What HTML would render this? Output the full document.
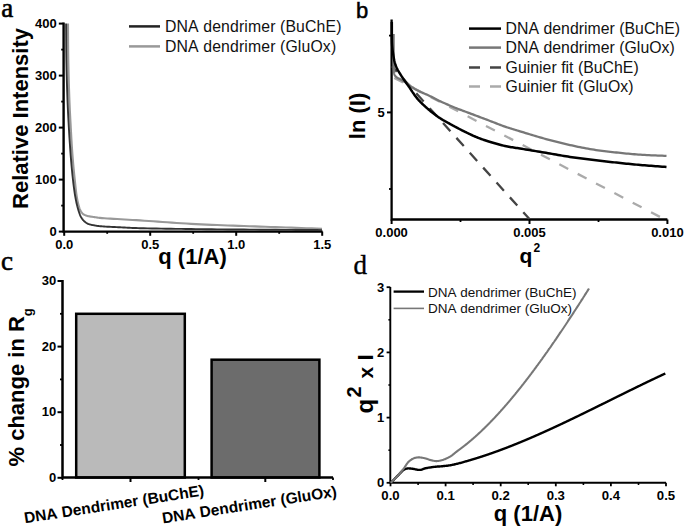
<!DOCTYPE html>
<html><head><meta charset="utf-8"><title>Figure</title>
<style>
html,body{margin:0;padding:0;background:#fff;}
body{width:685px;height:527px;overflow:hidden;font-family:"Liberation Sans", sans-serif;}
svg{display:block;} text{font-variant-ligatures:none;font-kerning:none;}
</style></head>
<body>
<svg width="685" height="527" viewBox="0 0 685 527">
<rect width="685" height="527" fill="#fff"/>
<text x="1.2" y="16.7" font-family='"Liberation Serif", serif' font-size="27" stroke="#000" stroke-width="0.6">a</text>
<path d="M63.6,22.6 V231.6 H322.6" fill="none" stroke="#000" stroke-width="2.4"/>
<line x1="58.8" y1="231.6" x2="63.6" y2="231.6" stroke="#000" stroke-width="2"/>
<text x="56.8" y="236.3" text-anchor="end" font-family='"Liberation Sans", sans-serif' font-weight="bold" font-size="13">0</text>
<line x1="58.8" y1="179.6" x2="63.6" y2="179.6" stroke="#000" stroke-width="2"/>
<text x="56.8" y="184.3" text-anchor="end" font-family='"Liberation Sans", sans-serif' font-weight="bold" font-size="13">100</text>
<line x1="58.8" y1="127.6" x2="63.6" y2="127.6" stroke="#000" stroke-width="2"/>
<text x="56.8" y="132.3" text-anchor="end" font-family='"Liberation Sans", sans-serif' font-weight="bold" font-size="13">200</text>
<line x1="58.8" y1="75.6" x2="63.6" y2="75.6" stroke="#000" stroke-width="2"/>
<text x="56.8" y="80.3" text-anchor="end" font-family='"Liberation Sans", sans-serif' font-weight="bold" font-size="13">300</text>
<line x1="58.8" y1="23.6" x2="63.6" y2="23.6" stroke="#000" stroke-width="2"/>
<text x="56.8" y="28.3" text-anchor="end" font-family='"Liberation Sans", sans-serif' font-weight="bold" font-size="13">400</text>
<line x1="61.2" y1="205.6" x2="63.6" y2="205.6" stroke="#000" stroke-width="1.8"/>
<line x1="61.2" y1="153.6" x2="63.6" y2="153.6" stroke="#000" stroke-width="1.8"/>
<line x1="61.2" y1="101.6" x2="63.6" y2="101.6" stroke="#000" stroke-width="1.8"/>
<line x1="61.2" y1="49.6" x2="63.6" y2="49.6" stroke="#000" stroke-width="1.8"/>
<line x1="64.2" y1="231.6" x2="64.2" y2="235.8" stroke="#000" stroke-width="2"/>
<text x="64.2" y="248.5" text-anchor="middle" font-family='"Liberation Sans", sans-serif' font-weight="bold" font-size="13">0.0</text>
<line x1="150.2" y1="231.6" x2="150.2" y2="235.8" stroke="#000" stroke-width="2"/>
<text x="150.2" y="248.5" text-anchor="middle" font-family='"Liberation Sans", sans-serif' font-weight="bold" font-size="13">0.5</text>
<line x1="236.2" y1="231.6" x2="236.2" y2="235.8" stroke="#000" stroke-width="2"/>
<text x="236.2" y="248.5" text-anchor="middle" font-family='"Liberation Sans", sans-serif' font-weight="bold" font-size="13">1.0</text>
<line x1="322.2" y1="231.6" x2="322.2" y2="235.8" stroke="#000" stroke-width="2"/>
<text x="322.2" y="248.5" text-anchor="middle" font-family='"Liberation Sans", sans-serif' font-weight="bold" font-size="13">1.5</text>
<line x1="107.2" y1="231.6" x2="107.2" y2="233.8" stroke="#000" stroke-width="1.8"/>
<line x1="193.2" y1="231.6" x2="193.2" y2="233.8" stroke="#000" stroke-width="1.8"/>
<line x1="279.2" y1="231.6" x2="279.2" y2="233.8" stroke="#000" stroke-width="1.8"/>
<text x="192.5" y="264" text-anchor="middle" font-family='"Liberation Sans", sans-serif' font-weight="bold" font-size="22">q (1/A)</text>
<text transform="translate(28,118.5) rotate(-90)" text-anchor="middle" font-family='"Liberation Sans", sans-serif' font-weight="bold" font-size="22">Relative Intensity</text>
<line x1="129" y1="26.4" x2="160" y2="26.4" stroke="#222" stroke-width="2.5"/>
<line x1="129" y1="46.4" x2="160" y2="46.4" stroke="#999" stroke-width="2.5"/>
<text x="165" y="32.3" font-family='"Liberation Sans", sans-serif' font-size="15.8" letter-spacing="0.13" fill="#111">DNA dendrimer (BuChE)</text>
<text x="165" y="52.3" font-family='"Liberation Sans", sans-serif' font-size="15.8" letter-spacing="0.13" fill="#111">DNA dendrimer (GluOx)</text>
<path d="M68.00,23.60 L68.02,26.63 L68.04,29.65 L68.06,32.66 L68.07,35.67 L68.09,38.68 L68.10,41.69 L68.12,44.71 L68.15,47.74 L68.17,50.78 L68.21,53.83 L68.25,56.91 L68.30,60.00 L68.36,63.29 L68.43,66.62 L68.50,70.00 L68.58,73.41 L68.67,76.83 L68.76,80.24 L68.85,83.65 L68.95,87.02 L69.06,90.36 L69.17,93.64 L69.28,96.86 L69.40,100.00 L69.51,102.67 L69.62,105.32 L69.74,107.95 L69.86,110.54 L69.99,113.11 L70.12,115.65 L70.25,118.15 L70.38,120.61 L70.52,123.03 L70.65,125.40 L70.77,127.73 L70.90,130.00 L71.00,131.82 L71.10,133.60 L71.20,135.35 L71.29,137.07 L71.39,138.77 L71.49,140.43 L71.59,142.08 L71.69,143.70 L71.79,145.30 L71.89,146.88 L71.99,148.45 L72.10,150.00 L72.19,151.33 L72.29,152.63 L72.38,153.90 L72.48,155.16 L72.57,156.40 L72.67,157.64 L72.77,158.86 L72.87,160.08 L72.98,161.30 L73.08,162.53 L73.19,163.76 L73.30,165.00 L73.41,166.25 L73.53,167.50 L73.65,168.75 L73.77,170.00 L73.89,171.25 L74.02,172.50 L74.15,173.75 L74.27,175.00 L74.40,176.25 L74.54,177.50 L74.67,178.75 L74.80,180.00 L74.93,181.26 L75.06,182.54 L75.19,183.82 L75.32,185.12 L75.45,186.41 L75.59,187.70 L75.72,188.97 L75.87,190.23 L76.01,191.47 L76.17,192.68 L76.33,193.86 L76.50,195.00 L76.65,195.92 L76.79,196.82 L76.94,197.72 L77.10,198.60 L77.26,199.47 L77.42,200.33 L77.59,201.16 L77.76,201.98 L77.94,202.77 L78.12,203.54 L78.31,204.28 L78.50,205.00 L78.65,205.53 L78.80,206.04 L78.95,206.54 L79.10,207.03 L79.25,207.50 L79.41,207.96 L79.57,208.41 L79.74,208.85 L79.92,209.28 L80.10,209.70 L80.30,210.10 L80.50,210.50 L80.68,210.83 L80.86,211.15 L81.04,211.47 L81.23,211.78 L81.42,212.08 L81.62,212.37 L81.82,212.65 L82.04,212.92 L82.26,213.18 L82.49,213.44 L82.74,213.67 L83.00,213.90 L83.28,214.12 L83.56,214.32 L83.86,214.50 L84.17,214.68 L84.48,214.84 L84.81,215.00 L85.14,215.14 L85.49,215.28 L85.85,215.41 L86.22,215.54 L86.61,215.67 L87.00,215.80 L87.57,215.97 L88.18,216.12 L88.83,216.26 L89.52,216.39 L90.22,216.51 L90.93,216.62 L91.65,216.73 L92.36,216.83 L93.06,216.92 L93.74,217.02 L94.39,217.11 L95.00,217.20 L95.44,217.27 L95.84,217.34 L96.22,217.40 L96.57,217.46 L96.92,217.51 L97.27,217.57 L97.63,217.62 L98.02,217.67 L98.44,217.73 L98.90,217.78 L99.42,217.84 L100.00,217.90 L101.97,218.08 L104.38,218.26 L107.15,218.46 L110.25,218.65 L113.62,218.86 L117.19,219.07 L120.92,219.28 L124.75,219.50 L128.63,219.72 L132.50,219.94 L136.31,220.17 L140.00,220.40 L144.33,220.68 L148.75,220.99 L153.25,221.30 L157.83,221.62 L162.48,221.95 L167.18,222.28 L171.92,222.61 L176.71,222.93 L181.51,223.25 L186.34,223.55 L191.17,223.84 L196.00,224.10 L201.19,224.36 L206.43,224.61 L211.72,224.84 L217.05,225.06 L222.41,225.27 L227.79,225.47 L233.19,225.66 L238.58,225.85 L243.97,226.04 L249.34,226.22 L254.69,226.41 L260.00,226.60 L265.20,226.79 L270.39,226.97 L275.57,227.15 L280.74,227.33 L285.90,227.50 L291.06,227.67 L296.22,227.84 L301.37,228.01 L306.52,228.18 L311.68,228.35 L316.84,228.53 L322.00,228.70" fill="none" stroke="#999" stroke-width="2.1"/>
<path d="M66.10,23.60 L66.12,26.63 L66.14,29.65 L66.16,32.66 L66.17,35.67 L66.19,38.68 L66.20,41.69 L66.22,44.71 L66.25,47.74 L66.27,50.78 L66.31,53.83 L66.35,56.91 L66.40,60.00 L66.46,63.29 L66.53,66.62 L66.60,70.00 L66.68,73.41 L66.77,76.83 L66.86,80.24 L66.95,83.65 L67.05,87.02 L67.16,90.36 L67.27,93.64 L67.38,96.86 L67.50,100.00 L67.61,102.67 L67.72,105.32 L67.84,107.95 L67.96,110.55 L68.08,113.11 L68.21,115.65 L68.34,118.15 L68.47,120.61 L68.61,123.03 L68.74,125.40 L68.87,127.73 L69.00,130.00 L69.11,131.82 L69.21,133.60 L69.32,135.35 L69.42,137.07 L69.53,138.77 L69.64,140.43 L69.75,142.08 L69.86,143.70 L69.97,145.30 L70.08,146.88 L70.19,148.45 L70.30,150.00 L70.40,151.33 L70.49,152.63 L70.59,153.90 L70.68,155.16 L70.78,156.40 L70.88,157.64 L70.98,158.86 L71.08,160.08 L71.18,161.30 L71.28,162.53 L71.39,163.76 L71.50,165.00 L71.61,166.25 L71.73,167.50 L71.84,168.75 L71.96,170.00 L72.08,171.25 L72.20,172.50 L72.32,173.75 L72.45,175.00 L72.58,176.25 L72.72,177.50 L72.86,178.75 L73.00,180.00 L73.15,181.26 L73.30,182.54 L73.45,183.82 L73.61,185.12 L73.77,186.41 L73.94,187.70 L74.11,188.97 L74.28,190.23 L74.45,191.47 L74.63,192.68 L74.81,193.86 L75.00,195.00 L75.15,195.91 L75.31,196.81 L75.47,197.69 L75.63,198.56 L75.79,199.41 L75.95,200.25 L76.12,201.07 L76.29,201.88 L76.46,202.68 L76.64,203.47 L76.82,204.24 L77.00,205.00 L77.16,205.63 L77.31,206.26 L77.47,206.87 L77.63,207.48 L77.80,208.08 L77.96,208.66 L78.13,209.24 L78.30,209.81 L78.47,210.37 L78.64,210.92 L78.82,211.47 L79.00,212.00 L79.15,212.45 L79.31,212.90 L79.46,213.34 L79.61,213.77 L79.76,214.19 L79.91,214.61 L80.07,215.03 L80.24,215.43 L80.41,215.83 L80.60,216.23 L80.79,216.62 L81.00,217.00 L81.21,217.37 L81.43,217.73 L81.65,218.08 L81.88,218.44 L82.12,218.78 L82.37,219.12 L82.62,219.46 L82.88,219.78 L83.15,220.10 L83.43,220.41 L83.71,220.71 L84.00,221.00 L84.29,221.28 L84.59,221.55 L84.89,221.81 L85.20,222.07 L85.51,222.31 L85.84,222.55 L86.17,222.78 L86.51,223.00 L86.86,223.22 L87.23,223.42 L87.61,223.61 L88.00,223.80 L88.50,224.01 L89.04,224.20 L89.61,224.38 L90.20,224.54 L90.81,224.69 L91.42,224.83 L92.04,224.95 L92.66,225.07 L93.27,225.18 L93.87,225.29 L94.45,225.40 L95.00,225.50 L95.43,225.58 L95.84,225.66 L96.23,225.72 L96.60,225.79 L96.97,225.84 L97.34,225.90 L97.72,225.95 L98.11,226.00 L98.53,226.05 L98.98,226.10 L99.47,226.15 L100.00,226.20 L101.20,226.31 L102.56,226.41 L104.06,226.51 L105.68,226.60 L107.39,226.70 L109.16,226.79 L110.99,226.88 L112.84,226.96 L114.69,227.05 L116.51,227.13 L118.29,227.22 L120.00,227.30 L121.63,227.38 L123.22,227.46 L124.76,227.55 L126.29,227.62 L127.82,227.70 L129.37,227.78 L130.95,227.85 L132.59,227.93 L134.29,228.00 L136.08,228.07 L137.98,228.14 L140.00,228.20 L143.67,228.30 L147.66,228.40 L151.93,228.49 L156.44,228.57 L161.14,228.65 L166.00,228.72 L170.97,228.79 L176.01,228.85 L181.08,228.92 L186.12,228.98 L191.11,229.04 L196.00,229.10 L201.19,229.16 L206.43,229.22 L211.72,229.28 L217.05,229.33 L222.42,229.39 L227.80,229.44 L233.19,229.48 L238.58,229.53 L243.97,229.57 L249.34,229.62 L254.69,229.66 L260.00,229.70 L265.20,229.74 L270.39,229.78 L275.57,229.81 L280.74,229.85 L285.90,229.88 L291.06,229.91 L296.22,229.94 L301.37,229.97 L306.52,230.00 L311.68,230.04 L316.84,230.07 L322.00,230.10" fill="none" stroke="#333" stroke-width="1.9"/>
<text x="356" y="18.2" font-family='"Liberation Sans", sans-serif' font-size="22" stroke="#000" stroke-width="0.5">b</text>
<path d="M391.6,19.6 V219.5 H667.4" fill="none" stroke="#000" stroke-width="2.3"/>
<line x1="387" y1="112.4" x2="391.6" y2="112.4" stroke="#000" stroke-width="2"/>
<text x="384.8" y="116.8" text-anchor="end" font-family='"Liberation Sans", sans-serif' font-weight="bold" font-size="13">5</text>
<line x1="389" y1="35.6" x2="391.6" y2="35.6" stroke="#000" stroke-width="1.8"/>
<line x1="389" y1="189.0" x2="391.6" y2="189.0" stroke="#000" stroke-width="1.8"/>
<line x1="391.6" y1="219.5" x2="391.6" y2="224" stroke="#000" stroke-width="2"/>
<text x="391.6" y="236.8" text-anchor="middle" font-family='"Liberation Sans", sans-serif' font-weight="bold" font-size="13">0.000</text>
<line x1="529.5" y1="219.5" x2="529.5" y2="224" stroke="#000" stroke-width="2"/>
<text x="529.5" y="236.8" text-anchor="middle" font-family='"Liberation Sans", sans-serif' font-weight="bold" font-size="13">0.005</text>
<line x1="667.4" y1="219.5" x2="667.4" y2="224" stroke="#000" stroke-width="2"/>
<text x="667.4" y="236.8" text-anchor="middle" font-family='"Liberation Sans", sans-serif' font-weight="bold" font-size="13">0.010</text>
<line x1="460.5" y1="219.5" x2="460.5" y2="222" stroke="#000" stroke-width="1.8"/>
<line x1="598.5" y1="219.5" x2="598.5" y2="222" stroke="#000" stroke-width="1.8"/>
<text x="519.6" y="263" font-family='"Liberation Sans", sans-serif' font-weight="bold" font-size="21">q</text>
<text x="533.5" y="252.2" font-family='"Liberation Sans", sans-serif' font-weight="bold" font-size="12">2</text>
<text transform="translate(364.6,116) rotate(-90)" text-anchor="middle" font-family='"Liberation Sans", sans-serif' font-weight="bold" font-size="22">ln (I)</text>
<line x1="469" y1="28.6" x2="501" y2="28.6" stroke="#000" stroke-width="2.5"/>
<line x1="469" y1="47.6" x2="501" y2="47.6" stroke="#777" stroke-width="2.5"/>
<line x1="469" y1="67.4" x2="501" y2="67.4" stroke="#444" stroke-width="2.5" stroke-dasharray="11,10"/>
<line x1="469" y1="86.6" x2="501" y2="86.6" stroke="#aaa" stroke-width="2.5" stroke-dasharray="11,10"/>
<text x="505.6" y="34.0" font-family='"Liberation Sans", sans-serif' font-size="15.8" letter-spacing="0.03" fill="#111">DNA dendrimer (BuChE)</text>
<text x="505.6" y="53.0" font-family='"Liberation Sans", sans-serif' font-size="15.8" letter-spacing="0.03" fill="#111">DNA dendrimer (GluOx)</text>
<text x="505.6" y="72.8" font-family='"Liberation Sans", sans-serif' font-size="15.8" letter-spacing="0.03" fill="#111">Guinier fit (BuChE)</text>
<text x="505.6" y="92.0" font-family='"Liberation Sans", sans-serif' font-size="15.8" letter-spacing="0.03" fill="#111">Guinier fit (GluOx)</text>
<line x1="392.5" y1="77" x2="663" y2="218.5" stroke="#aaa" stroke-width="2.3" stroke-dasharray="10,10.7" stroke-dashoffset="18.7"/>
<line x1="392" y1="66.3" x2="529.2" y2="218.8" stroke="#444" stroke-width="2.3" stroke-dasharray="11,9" stroke-dashoffset="3.7"/>
<path d="M393.60,34.00 L393.60,35.34 L393.60,36.69 L393.60,38.05 L393.60,39.42 L393.59,40.78 L393.59,42.14 L393.59,43.50 L393.59,44.84 L393.59,46.16 L393.59,47.47 L393.60,48.75 L393.60,50.00 L393.60,51.07 L393.61,52.13 L393.61,53.18 L393.62,54.22 L393.63,55.25 L393.63,56.26 L393.64,57.26 L393.65,58.24 L393.66,59.21 L393.67,60.16 L393.69,61.09 L393.70,62.00 L393.71,62.73 L393.72,63.45 L393.72,64.16 L393.73,64.86 L393.73,65.54 L393.74,66.22 L393.75,66.88 L393.76,67.53 L393.78,68.17 L393.81,68.80 L393.85,69.41 L393.90,70.00 L393.94,70.47 L393.98,70.93 L394.02,71.39 L394.06,71.84 L394.10,72.29 L394.15,72.72 L394.21,73.15 L394.28,73.55 L394.36,73.94 L394.45,74.32 L394.57,74.67 L394.70,75.00 L394.81,75.23 L394.93,75.45 L395.05,75.65 L395.18,75.85 L395.31,76.03 L395.46,76.21 L395.61,76.38 L395.77,76.54 L395.94,76.71 L396.12,76.87 L396.30,77.03 L396.50,77.20 L396.77,77.41 L397.07,77.61 L397.39,77.80 L397.72,77.99 L398.07,78.17 L398.43,78.35 L398.80,78.53 L399.18,78.71 L399.56,78.90 L399.94,79.09 L400.32,79.29 L400.70,79.50 L401.15,79.76 L401.61,80.03 L402.07,80.30 L402.55,80.58 L403.03,80.87 L403.51,81.16 L404.00,81.46 L404.48,81.76 L404.97,82.06 L405.45,82.37 L405.93,82.69 L406.40,83.00 L406.88,83.33 L407.36,83.67 L407.83,84.02 L408.31,84.38 L408.78,84.74 L409.25,85.11 L409.72,85.47 L410.19,85.83 L410.67,86.18 L411.14,86.53 L411.62,86.87 L412.10,87.20 L412.56,87.51 L413.01,87.80 L413.46,88.09 L413.91,88.37 L414.35,88.65 L414.80,88.92 L415.26,89.20 L415.73,89.47 L416.22,89.75 L416.72,90.03 L417.25,90.31 L417.80,90.60 L418.61,91.01 L419.46,91.41 L420.36,91.83 L421.30,92.24 L422.27,92.66 L423.25,93.08 L424.25,93.51 L425.26,93.94 L426.27,94.37 L427.26,94.81 L428.24,95.25 L429.20,95.70 L430.14,96.16 L431.08,96.62 L432.00,97.09 L432.92,97.56 L433.84,98.04 L434.76,98.52 L435.69,99.00 L436.62,99.48 L437.57,99.97 L438.53,100.45 L439.50,100.93 L440.50,101.40 L441.65,101.93 L442.83,102.48 L444.05,103.02 L445.28,103.57 L446.53,104.12 L447.79,104.67 L449.04,105.21 L450.28,105.74 L451.51,106.26 L452.71,106.76 L453.88,107.24 L455.00,107.70 L455.88,108.06 L456.73,108.39 L457.54,108.71 L458.33,109.01 L459.12,109.31 L459.89,109.60 L460.68,109.89 L461.48,110.19 L462.30,110.49 L463.15,110.81 L464.05,111.14 L465.00,111.50 L466.43,112.04 L467.94,112.60 L469.52,113.20 L471.16,113.81 L472.85,114.44 L474.57,115.09 L476.32,115.74 L478.08,116.40 L479.84,117.06 L481.59,117.72 L483.31,118.36 L485.00,119.00 L486.68,119.64 L488.37,120.29 L490.06,120.95 L491.77,121.61 L493.47,122.28 L495.17,122.94 L496.86,123.59 L498.53,124.23 L500.19,124.86 L501.82,125.46 L503.43,126.05 L505.00,126.60 L506.31,127.05 L507.57,127.47 L508.81,127.87 L510.02,128.26 L511.21,128.63 L512.40,129.00 L513.60,129.36 L514.81,129.73 L516.05,130.10 L517.32,130.48 L518.63,130.88 L520.00,131.30 L521.80,131.85 L523.67,132.43 L525.60,133.03 L527.58,133.63 L529.59,134.25 L531.64,134.88 L533.70,135.50 L535.78,136.13 L537.86,136.74 L539.93,137.35 L541.98,137.93 L544.00,138.50 L545.99,139.05 L547.99,139.59 L549.99,140.13 L551.98,140.66 L553.98,141.18 L555.98,141.70 L557.98,142.20 L559.98,142.70 L561.99,143.19 L563.99,143.67 L565.99,144.14 L568.00,144.60 L569.99,145.05 L571.99,145.49 L573.98,145.93 L575.98,146.36 L577.97,146.78 L579.97,147.19 L581.97,147.58 L583.97,147.97 L585.97,148.35 L587.98,148.71 L589.99,149.06 L592.00,149.40 L594.02,149.72 L596.05,150.03 L598.08,150.32 L600.11,150.59 L602.15,150.86 L604.19,151.11 L606.23,151.36 L608.27,151.60 L610.30,151.83 L612.34,152.05 L614.37,152.28 L616.40,152.50 L618.40,152.72 L620.40,152.93 L622.39,153.13 L624.37,153.34 L626.36,153.53 L628.34,153.72 L630.33,153.90 L632.33,154.07 L634.33,154.24 L636.34,154.40 L638.36,154.56 L640.40,154.70 L642.54,154.84 L644.68,154.96 L646.85,155.08 L649.02,155.18 L651.19,155.28 L653.38,155.37 L655.57,155.46 L657.76,155.54 L659.95,155.63 L662.14,155.71 L664.32,155.80 L666.50,155.90" fill="none" stroke="#777" stroke-width="2.3"/>
<path d="M391.80,22.00 L391.82,23.95 L391.83,25.94 L391.83,27.97 L391.83,30.02 L391.83,32.06 L391.84,34.09 L391.85,36.09 L391.87,38.04 L391.90,39.92 L391.94,41.72 L392.01,43.42 L392.10,45.00 L392.17,45.98 L392.25,46.92 L392.33,47.83 L392.42,48.69 L392.52,49.53 L392.62,50.35 L392.72,51.14 L392.83,51.93 L392.94,52.70 L393.06,53.46 L393.18,54.23 L393.30,55.00 L393.41,55.67 L393.51,56.34 L393.62,57.00 L393.73,57.65 L393.84,58.29 L393.96,58.93 L394.08,59.56 L394.21,60.18 L394.34,60.80 L394.48,61.40 L394.64,62.00 L394.80,62.60 L394.96,63.14 L395.12,63.67 L395.29,64.20 L395.47,64.72 L395.65,65.23 L395.84,65.74 L396.03,66.25 L396.23,66.75 L396.44,67.24 L396.65,67.73 L396.87,68.22 L397.10,68.70 L397.33,69.16 L397.57,69.62 L397.81,70.08 L398.07,70.53 L398.33,70.97 L398.59,71.42 L398.86,71.85 L399.13,72.29 L399.40,72.72 L399.67,73.15 L399.94,73.58 L400.20,74.00 L400.45,74.40 L400.69,74.79 L400.94,75.18 L401.19,75.56 L401.43,75.95 L401.68,76.33 L401.93,76.70 L402.18,77.08 L402.43,77.46 L402.69,77.84 L402.94,78.22 L403.20,78.60 L403.47,78.99 L403.74,79.39 L404.01,79.78 L404.29,80.18 L404.57,80.57 L404.84,80.97 L405.12,81.36 L405.40,81.75 L405.68,82.14 L405.96,82.53 L406.23,82.92 L406.50,83.30 L406.75,83.66 L407.01,84.01 L407.26,84.35 L407.50,84.70 L407.75,85.04 L408.00,85.38 L408.25,85.72 L408.49,86.07 L408.74,86.42 L408.99,86.77 L409.25,87.13 L409.50,87.50 L409.78,87.92 L410.06,88.34 L410.35,88.77 L410.63,89.20 L410.91,89.64 L411.19,90.08 L411.48,90.53 L411.77,90.98 L412.07,91.43 L412.37,91.89 L412.68,92.34 L413.00,92.80 L413.36,93.32 L413.73,93.84 L414.10,94.37 L414.48,94.90 L414.87,95.44 L415.26,95.98 L415.66,96.52 L416.07,97.06 L416.48,97.60 L416.91,98.14 L417.35,98.67 L417.80,99.20 L418.31,99.78 L418.83,100.35 L419.37,100.92 L419.92,101.49 L420.48,102.06 L421.05,102.63 L421.63,103.20 L422.21,103.76 L422.80,104.33 L423.40,104.89 L424.00,105.44 L424.60,106.00 L425.23,106.58 L425.88,107.16 L426.53,107.74 L427.19,108.32 L427.86,108.90 L428.53,109.48 L429.21,110.05 L429.88,110.61 L430.56,111.17 L431.24,111.72 L431.92,112.27 L432.60,112.80 L433.25,113.31 L433.90,113.81 L434.55,114.31 L435.21,114.80 L435.86,115.28 L436.52,115.76 L437.18,116.24 L437.84,116.70 L438.50,117.16 L439.16,117.62 L439.83,118.06 L440.50,118.50 L441.16,118.92 L441.82,119.32 L442.48,119.72 L443.15,120.12 L443.82,120.50 L444.49,120.88 L445.17,121.26 L445.84,121.63 L446.51,122.00 L447.18,122.36 L447.84,122.73 L448.50,123.10 L449.13,123.45 L449.75,123.80 L450.37,124.14 L450.99,124.49 L451.60,124.82 L452.22,125.16 L452.83,125.50 L453.45,125.84 L454.08,126.17 L454.71,126.51 L455.35,126.85 L456.00,127.20 L456.72,127.58 L457.44,127.96 L458.18,128.34 L458.91,128.73 L459.66,129.11 L460.41,129.50 L461.17,129.88 L461.93,130.27 L462.69,130.65 L463.46,131.04 L464.23,131.42 L465.00,131.80 L465.81,132.20 L466.63,132.60 L467.45,133.00 L468.28,133.41 L469.12,133.81 L469.95,134.21 L470.79,134.61 L471.63,135.00 L472.47,135.39 L473.32,135.77 L474.16,136.14 L475.00,136.50 L475.82,136.84 L476.62,137.18 L477.40,137.50 L478.19,137.82 L478.97,138.13 L479.76,138.44 L480.57,138.74 L481.39,139.05 L482.24,139.35 L483.12,139.66 L484.04,139.98 L485.00,140.30 L486.43,140.77 L487.96,141.26 L489.57,141.76 L491.24,142.28 L492.97,142.79 L494.72,143.31 L496.50,143.81 L498.27,144.30 L500.02,144.77 L501.74,145.22 L503.40,145.63 L505.00,146.00 L506.31,146.28 L507.57,146.54 L508.80,146.77 L510.01,146.97 L511.21,147.17 L512.40,147.35 L513.60,147.53 L514.81,147.70 L516.05,147.89 L517.32,148.07 L518.63,148.28 L520.00,148.50 L521.80,148.80 L523.68,149.11 L525.61,149.43 L527.58,149.76 L529.60,150.10 L531.65,150.44 L533.72,150.78 L535.79,151.12 L537.87,151.47 L539.94,151.82 L541.98,152.16 L544.00,152.50 L546.00,152.84 L548.00,153.19 L550.00,153.54 L552.00,153.89 L554.00,154.25 L556.00,154.60 L558.00,154.95 L560.00,155.30 L562.00,155.64 L564.00,155.97 L566.00,156.29 L568.00,156.60 L570.00,156.90 L571.99,157.19 L573.99,157.47 L575.99,157.75 L577.98,158.02 L579.98,158.28 L581.98,158.54 L583.98,158.80 L585.98,159.05 L587.99,159.30 L589.99,159.55 L592.00,159.80 L594.03,160.05 L596.06,160.30 L598.09,160.54 L600.12,160.78 L602.16,161.02 L604.20,161.25 L606.23,161.48 L608.27,161.71 L610.31,161.94 L612.34,162.16 L614.37,162.38 L616.40,162.60 L618.40,162.81 L620.40,163.03 L622.39,163.24 L624.38,163.45 L626.36,163.65 L628.35,163.85 L630.34,164.05 L632.33,164.25 L634.33,164.44 L636.34,164.63 L638.36,164.82 L640.40,165.00 L642.54,165.18 L644.69,165.36 L646.85,165.54 L649.02,165.70 L651.20,165.87 L653.38,166.03 L655.57,166.19 L657.76,166.35 L659.95,166.51 L662.14,166.67 L664.32,166.83 L666.50,167.00" fill="none" stroke="#000" stroke-width="2.5"/>
<text x="1" y="269.8" font-family='"Liberation Serif", serif' font-size="27" stroke="#000" stroke-width="0.6">c</text>
<rect x="76.2" y="313.8" width="108.6" height="163.7" fill="#bababa" stroke="#000" stroke-width="2.5"/>
<rect x="211.6" y="359.7" width="107.8" height="117.8" fill="#6c6c6c" stroke="#000" stroke-width="2.5"/>
<path d="M62.5,280 V477.5 H333" fill="none" stroke="#000" stroke-width="2.5"/>
<line x1="57.5" y1="477.8" x2="62.5" y2="477.8" stroke="#000" stroke-width="2"/>
<text x="56.2" y="481.8" text-anchor="end" font-family='"Liberation Sans", sans-serif' font-weight="bold" font-size="13">0</text>
<line x1="57.5" y1="412.2" x2="62.5" y2="412.2" stroke="#000" stroke-width="2"/>
<text x="56.2" y="416.2" text-anchor="end" font-family='"Liberation Sans", sans-serif' font-weight="bold" font-size="13">10</text>
<line x1="57.5" y1="346.6" x2="62.5" y2="346.6" stroke="#000" stroke-width="2"/>
<text x="56.2" y="350.6" text-anchor="end" font-family='"Liberation Sans", sans-serif' font-weight="bold" font-size="13">20</text>
<line x1="57.5" y1="281.0" x2="62.5" y2="281.0" stroke="#000" stroke-width="2"/>
<text x="56.2" y="285.0" text-anchor="end" font-family='"Liberation Sans", sans-serif' font-weight="bold" font-size="13">30</text>
<line x1="60" y1="445.0" x2="62.5" y2="445.0" stroke="#000" stroke-width="1.8"/>
<line x1="60" y1="379.4" x2="62.5" y2="379.4" stroke="#000" stroke-width="1.8"/>
<line x1="60" y1="313.8" x2="62.5" y2="313.8" stroke="#000" stroke-width="1.8"/>
<line x1="130.5" y1="477.5" x2="130.5" y2="482" stroke="#000" stroke-width="2"/>
<line x1="265.3" y1="477.5" x2="265.3" y2="482" stroke="#000" stroke-width="2"/>
<line x1="62.5" y1="477.5" x2="62.5" y2="480" stroke="#000" stroke-width="1.8"/>
<line x1="198.5" y1="477.5" x2="198.5" y2="480" stroke="#000" stroke-width="1.8"/>
<line x1="333.0" y1="477.5" x2="333.0" y2="480" stroke="#000" stroke-width="1.8"/>
<text transform="translate(23.8,466.5) rotate(-90)" font-family='"Liberation Sans", sans-serif' font-weight="bold" font-size="22">% change in R<tspan font-size="13" dy="8.2">g</tspan></text>
<text transform="translate(25,523.3) rotate(-8.8)" font-family='"Liberation Sans", sans-serif' font-weight="bold" font-size="15.5">DNA Dendrimer (BuChE)</text>
<text transform="translate(163,523.4) rotate(-8.8)" font-family='"Liberation Sans", sans-serif' font-weight="bold" font-size="15.5">DNA Dendrimer (GluOx)</text>
<text x="353.5" y="274" font-family='"Liberation Serif", serif' font-size="27" stroke="#000" stroke-width="0.4">d</text>
<path d="M390.3,287 V482.8 H666" fill="none" stroke="#000" stroke-width="1.9"/>
<line x1="386.6" y1="482.8" x2="390.3" y2="482.8" stroke="#000" stroke-width="1.8"/>
<text x="384.2" y="487.3" text-anchor="end" font-family='"Liberation Sans", sans-serif' font-weight="bold" font-size="13">0</text>
<line x1="386.6" y1="417.6" x2="390.3" y2="417.6" stroke="#000" stroke-width="1.8"/>
<text x="384.2" y="422.1" text-anchor="end" font-family='"Liberation Sans", sans-serif' font-weight="bold" font-size="13">1</text>
<line x1="386.6" y1="352.4" x2="390.3" y2="352.4" stroke="#000" stroke-width="1.8"/>
<text x="384.2" y="356.9" text-anchor="end" font-family='"Liberation Sans", sans-serif' font-weight="bold" font-size="13">2</text>
<line x1="386.6" y1="287.2" x2="390.3" y2="287.2" stroke="#000" stroke-width="1.8"/>
<text x="384.2" y="291.7" text-anchor="end" font-family='"Liberation Sans", sans-serif' font-weight="bold" font-size="13">3</text>
<line x1="388.4" y1="450.2" x2="390.3" y2="450.2" stroke="#000" stroke-width="1.6"/>
<line x1="388.4" y1="385.0" x2="390.3" y2="385.0" stroke="#000" stroke-width="1.6"/>
<line x1="388.4" y1="319.8" x2="390.3" y2="319.8" stroke="#000" stroke-width="1.6"/>
<line x1="390.5" y1="482.8" x2="390.5" y2="486.3" stroke="#000" stroke-width="1.8"/>
<text x="390.5" y="500.2" text-anchor="middle" font-family='"Liberation Sans", sans-serif' font-weight="bold" font-size="13.2">0.0</text>
<line x1="445.6" y1="482.8" x2="445.6" y2="486.3" stroke="#000" stroke-width="1.8"/>
<text x="445.6" y="500.2" text-anchor="middle" font-family='"Liberation Sans", sans-serif' font-weight="bold" font-size="13.2">0.1</text>
<line x1="500.7" y1="482.8" x2="500.7" y2="486.3" stroke="#000" stroke-width="1.8"/>
<text x="500.7" y="500.2" text-anchor="middle" font-family='"Liberation Sans", sans-serif' font-weight="bold" font-size="13.2">0.2</text>
<line x1="555.8" y1="482.8" x2="555.8" y2="486.3" stroke="#000" stroke-width="1.8"/>
<text x="555.8" y="500.2" text-anchor="middle" font-family='"Liberation Sans", sans-serif' font-weight="bold" font-size="13.2">0.3</text>
<line x1="610.9" y1="482.8" x2="610.9" y2="486.3" stroke="#000" stroke-width="1.8"/>
<text x="610.9" y="500.2" text-anchor="middle" font-family='"Liberation Sans", sans-serif' font-weight="bold" font-size="13.2">0.4</text>
<line x1="666.0" y1="482.8" x2="666.0" y2="486.3" stroke="#000" stroke-width="1.8"/>
<text x="666.0" y="500.2" text-anchor="middle" font-family='"Liberation Sans", sans-serif' font-weight="bold" font-size="13.2">0.5</text>
<line x1="418.1" y1="482.8" x2="418.1" y2="485" stroke="#000" stroke-width="1.6"/>
<line x1="473.1" y1="482.8" x2="473.1" y2="485" stroke="#000" stroke-width="1.6"/>
<line x1="528.2" y1="482.8" x2="528.2" y2="485" stroke="#000" stroke-width="1.6"/>
<line x1="583.4" y1="482.8" x2="583.4" y2="485" stroke="#000" stroke-width="1.6"/>
<line x1="638.5" y1="482.8" x2="638.5" y2="485" stroke="#000" stroke-width="1.6"/>
<text x="528" y="521" text-anchor="middle" font-family='"Liberation Sans", sans-serif' font-weight="bold" font-size="22">q (1/A)</text>
<text transform="translate(373.0,413.4) rotate(-90)" font-family='"Liberation Sans", sans-serif' font-weight="bold" font-size="24">q</text>
<text transform="translate(361.2,397.6) rotate(-90)" font-family='"Liberation Sans", sans-serif' font-weight="bold" font-size="20">2</text>
<text transform="translate(373.0,378.4) rotate(-90)" font-family='"Liberation Sans", sans-serif' font-weight="bold" font-size="21">x</text>
<text transform="translate(373.0,360.4) rotate(-90)" font-family='"Liberation Sans", sans-serif' font-weight="bold" font-size="22">I</text>
<line x1="393.6" y1="291.6" x2="424" y2="291.6" stroke="#000" stroke-width="2.3"/>
<line x1="393.6" y1="308.4" x2="424" y2="308.4" stroke="#777" stroke-width="1.6"/>
<text x="428" y="296.6" font-family='"Liberation Sans", sans-serif' font-size="13.5" fill="#111">DNA dendrimer (BuChE)</text>
<text x="428" y="313.4" font-family='"Liberation Sans", sans-serif' font-size="13.5" fill="#111">DNA dendrimer (GluOx)</text>
<path d="M390.60,482.80 L390.68,482.73 L390.76,482.66 L390.83,482.59 L390.90,482.53 L390.98,482.47 L391.05,482.40 L391.13,482.34 L391.21,482.26 L391.29,482.18 L391.39,482.10 L391.49,482.00 L391.60,481.90 L391.93,481.59 L392.31,481.21 L392.75,480.78 L393.23,480.30 L393.75,479.78 L394.29,479.23 L394.85,478.67 L395.42,478.10 L395.98,477.53 L396.54,476.96 L397.08,476.42 L397.60,475.90 L398.10,475.39 L398.61,474.85 L399.12,474.29 L399.63,473.73 L400.14,473.16 L400.65,472.61 L401.16,472.07 L401.66,471.55 L402.16,471.07 L402.65,470.63 L403.13,470.24 L403.60,469.90 L403.91,469.70 L404.21,469.53 L404.51,469.36 L404.80,469.22 L405.09,469.09 L405.38,468.97 L405.67,468.87 L405.96,468.78 L406.26,468.69 L406.57,468.62 L406.88,468.56 L407.20,468.50 L407.57,468.45 L407.94,468.42 L408.31,468.41 L408.69,468.41 L409.08,468.42 L409.47,468.45 L409.87,468.48 L410.27,468.52 L410.69,468.56 L411.12,468.61 L411.55,468.66 L412.00,468.70 L412.62,468.77 L413.28,468.88 L413.98,469.01 L414.69,469.15 L415.42,469.31 L416.16,469.46 L416.90,469.60 L417.63,469.73 L418.35,469.83 L419.03,469.89 L419.69,469.92 L420.30,469.90 L420.74,469.85 L421.15,469.77 L421.54,469.67 L421.92,469.54 L422.28,469.41 L422.64,469.26 L423.00,469.11 L423.37,468.95 L423.75,468.80 L424.14,468.66 L424.56,468.52 L425.00,468.40 L425.63,468.25 L426.30,468.11 L427.00,467.96 L427.72,467.83 L428.47,467.69 L429.22,467.56 L429.99,467.44 L430.76,467.32 L431.53,467.21 L432.30,467.10 L433.06,467.00 L433.80,466.90 L434.53,466.82 L435.25,466.74 L435.98,466.68 L436.71,466.62 L437.44,466.57 L438.17,466.52 L438.90,466.48 L439.62,466.43 L440.35,466.38 L441.07,466.33 L441.79,466.27 L442.50,466.20 L443.18,466.13 L443.86,466.06 L444.54,465.99 L445.21,465.92 L445.88,465.85 L446.55,465.77 L447.22,465.70 L447.89,465.61 L448.56,465.52 L449.24,465.42 L449.92,465.32 L450.60,465.20 L451.32,465.07 L452.05,464.93 L452.78,464.78 L453.52,464.62 L454.25,464.46 L454.99,464.29 L455.73,464.12 L456.46,463.94 L457.20,463.76 L457.94,463.57 L458.67,463.39 L459.40,463.20 L460.15,463.00 L460.93,462.80 L461.73,462.57 L462.53,462.35 L463.34,462.12 L464.14,461.89 L464.91,461.66 L465.66,461.44 L466.36,461.24 L467.01,461.04 L467.59,460.87 L468.10,460.73 L468.32,460.66 L468.51,460.61 L468.70,460.55 L468.87,460.50 L469.03,460.46 L469.19,460.41 L469.34,460.37 L469.49,460.33 L469.63,460.28 L469.78,460.24 L469.94,460.19 L470.10,460.15 L470.27,460.10 L470.43,460.05 L470.60,460.00 L470.77,459.95 L470.93,459.90 L471.10,459.85 L471.27,459.80 L471.43,459.75 L471.60,459.70 L471.77,459.66 L471.93,459.61 L472.10,459.56 L472.27,459.51 L472.43,459.46 L472.60,459.41 L472.77,459.36 L472.93,459.31 L473.10,459.26 L473.27,459.21 L473.43,459.16 L473.60,459.10 L473.77,459.05 L473.93,459.00 L474.10,458.95 L474.27,458.90 L474.43,458.85 L474.60,458.80 L474.77,458.75 L474.93,458.70 L475.10,458.65 L475.27,458.60 L475.43,458.55 L475.60,458.49 L475.77,458.44 L475.93,458.39 L476.10,458.34 L476.27,458.29 L476.43,458.24 L476.60,458.18 L476.77,458.13 L476.93,458.08 L477.10,458.03 L477.27,457.98 L477.43,457.92 L477.60,457.87 L477.77,457.82 L477.93,457.77 L478.10,457.71 L478.27,457.66 L478.43,457.61 L478.60,457.56 L478.77,457.50 L478.93,457.45 L479.10,457.40 L479.27,457.35 L479.43,457.29 L479.60,457.24 L479.77,457.19 L479.93,457.13 L480.10,457.08 L480.27,457.03 L480.43,456.97 L480.60,456.92 L480.77,456.86 L480.93,456.81 L481.10,456.76 L481.27,456.70 L481.43,456.65 L481.60,456.60 L481.77,456.54 L481.93,456.49 L482.10,456.43 L482.27,456.38 L482.43,456.32 L482.60,456.27 L482.77,456.21 L482.93,456.16 L483.10,456.11 L483.27,456.05 L483.43,456.00 L483.60,455.94 L483.77,455.89 L483.93,455.83 L484.10,455.78 L484.27,455.72 L484.43,455.66 L484.60,455.61 L484.77,455.55 L484.93,455.50 L485.10,455.44 L485.27,455.39 L485.43,455.33 L485.60,455.28 L485.77,455.22 L485.93,455.16 L486.10,455.11 L486.27,455.05 L486.43,455.00 L486.60,454.94 L486.77,454.88 L486.93,454.83 L487.10,454.77 L487.27,454.71 L487.43,454.66 L487.60,454.60 L487.77,454.54 L487.93,454.49 L488.10,454.43 L488.27,454.37 L488.43,454.32 L488.60,454.26 L488.77,454.20 L488.93,454.14 L489.10,454.09 L489.27,454.03 L489.43,453.97 L489.60,453.91 L489.77,453.86 L489.93,453.80 L490.10,453.74 L490.27,453.68 L490.43,453.63 L490.60,453.57 L490.77,453.51 L490.93,453.45 L491.10,453.39 L491.27,453.34 L491.43,453.28 L491.60,453.22 L491.77,453.16 L491.93,453.10 L492.10,453.04 L492.27,452.99 L492.43,452.93 L492.60,452.87 L492.77,452.81 L492.93,452.75 L493.10,452.69 L493.27,452.63 L493.43,452.57 L493.60,452.51 L493.77,452.46 L493.93,452.40 L494.10,452.34 L494.27,452.28 L494.43,452.22 L494.60,452.16 L494.77,452.10 L494.93,452.04 L495.10,451.98 L495.27,451.92 L495.43,451.86 L495.60,451.80 L495.77,451.74 L495.93,451.68 L496.10,451.62 L496.27,451.56 L496.43,451.50 L496.60,451.44 L496.77,451.38 L496.93,451.32 L497.10,451.26 L497.27,451.20 L497.43,451.14 L497.60,451.08 L497.77,451.01 L497.93,450.95 L498.10,450.89 L498.27,450.83 L498.43,450.77 L498.60,450.71 L498.77,450.65 L498.93,450.59 L499.10,450.53 L499.27,450.46 L499.43,450.40 L499.60,450.34 L499.77,450.28 L499.93,450.22 L500.10,450.16 L500.27,450.09 L500.43,450.03 L500.60,449.97 L500.77,449.91 L500.93,449.85 L501.10,449.79 L501.27,449.72 L501.43,449.66 L501.60,449.60 L501.77,449.54 L501.93,449.47 L502.10,449.41 L502.27,449.35 L502.43,449.29 L502.60,449.22 L502.77,449.16 L502.93,449.10 L503.10,449.04 L503.27,448.97 L503.43,448.91 L503.60,448.85 L503.77,448.78 L503.93,448.72 L504.10,448.66 L504.27,448.59 L504.43,448.53 L504.60,448.47 L504.77,448.40 L504.93,448.34 L505.10,448.28 L505.27,448.21 L505.43,448.15 L505.60,448.09 L505.77,448.02 L505.93,447.96 L506.10,447.89 L506.27,447.83 L506.43,447.77 L506.60,447.70 L506.77,447.64 L506.93,447.57 L507.10,447.51 L507.27,447.45 L507.43,447.38 L507.60,447.32 L507.77,447.25 L507.93,447.19 L508.10,447.12 L508.27,447.06 L508.43,446.99 L508.60,446.93 L508.77,446.86 L508.93,446.80 L509.10,446.73 L509.27,446.67 L509.43,446.60 L509.60,446.54 L509.77,446.47 L509.93,446.41 L510.10,446.34 L510.27,446.28 L510.43,446.21 L510.60,446.15 L510.77,446.08 L510.93,446.02 L511.10,445.95 L511.27,445.88 L511.43,445.82 L511.60,445.75 L511.77,445.69 L511.93,445.62 L512.10,445.56 L512.27,445.49 L512.43,445.42 L512.60,445.36 L512.77,445.29 L512.93,445.22 L513.10,445.16 L513.27,445.09 L513.43,445.03 L513.60,444.96 L513.77,444.89 L513.93,444.83 L514.10,444.76 L514.27,444.69 L514.43,444.63 L514.60,444.56 L514.77,444.49 L514.93,444.43 L515.10,444.36 L515.27,444.29 L515.43,444.22 L515.60,444.16 L515.77,444.09 L515.93,444.02 L516.10,443.96 L516.27,443.89 L516.43,443.82 L516.60,443.75 L516.77,443.69 L516.93,443.62 L517.10,443.55 L517.27,443.48 L517.43,443.41 L517.60,443.35 L517.77,443.28 L517.93,443.21 L518.10,443.14 L518.27,443.08 L518.43,443.01 L518.60,442.94 L518.77,442.87 L518.93,442.80 L519.10,442.73 L519.27,442.67 L519.43,442.60 L519.60,442.53 L519.77,442.46 L519.93,442.39 L520.10,442.32 L520.27,442.25 L520.43,442.19 L520.60,442.12 L520.77,442.05 L520.93,441.98 L521.10,441.91 L521.27,441.84 L521.43,441.77 L521.60,441.70 L521.77,441.63 L521.93,441.57 L522.10,441.50 L522.27,441.43 L522.43,441.36 L522.60,441.29 L522.77,441.22 L522.93,441.15 L523.10,441.08 L523.27,441.01 L523.43,440.94 L523.60,440.87 L523.77,440.80 L523.93,440.73 L524.10,440.66 L524.27,440.59 L524.43,440.52 L524.60,440.45 L524.77,440.38 L524.93,440.31 L525.10,440.24 L525.27,440.17 L525.43,440.10 L525.60,440.03 L525.77,439.96 L525.93,439.89 L526.10,439.82 L526.27,439.75 L526.43,439.68 L526.60,439.61 L526.77,439.54 L526.93,439.47 L527.10,439.40 L527.27,439.33 L527.43,439.26 L527.60,439.18 L527.77,439.11 L527.93,439.04 L528.10,438.97 L528.27,438.90 L528.43,438.83 L528.60,438.76 L528.77,438.69 L528.93,438.62 L529.10,438.55 L529.27,438.47 L529.43,438.40 L529.60,438.33 L529.77,438.26 L529.93,438.19 L530.10,438.12 L530.27,438.05 L530.43,437.97 L530.60,437.90 L530.77,437.83 L530.93,437.76 L531.10,437.69 L531.27,437.62 L531.43,437.54 L531.60,437.47 L531.77,437.40 L531.93,437.33 L532.10,437.26 L532.27,437.18 L532.43,437.11 L532.60,437.04 L532.77,436.97 L532.93,436.89 L533.10,436.82 L533.27,436.75 L533.43,436.68 L533.60,436.60 L533.77,436.53 L533.93,436.46 L534.10,436.39 L534.27,436.31 L534.43,436.24 L534.60,436.17 L534.77,436.10 L534.93,436.02 L535.10,435.95 L535.27,435.88 L535.43,435.80 L535.60,435.73 L535.77,435.66 L535.93,435.59 L536.10,435.51 L536.27,435.44 L536.43,435.37 L536.60,435.29 L536.77,435.22 L536.93,435.15 L537.10,435.07 L537.27,435.00 L537.43,434.93 L537.60,434.85 L537.77,434.78 L537.93,434.71 L538.10,434.63 L538.27,434.56 L538.43,434.48 L538.60,434.41 L538.77,434.34 L538.93,434.26 L539.10,434.19 L539.27,434.12 L539.43,434.04 L539.60,433.97 L539.77,433.89 L539.93,433.82 L540.10,433.75 L540.27,433.67 L540.43,433.60 L540.60,433.52 L540.77,433.45 L540.93,433.37 L541.10,433.30 L541.27,433.23 L541.43,433.15 L541.60,433.08 L541.77,433.00 L541.93,432.93 L542.10,432.85 L542.27,432.78 L542.43,432.70 L542.60,432.63 L542.77,432.55 L542.93,432.48 L543.10,432.40 L543.27,432.33 L543.43,432.25 L543.60,432.18 L543.77,432.10 L543.93,432.03 L544.10,431.95 L544.27,431.88 L544.43,431.80 L544.60,431.73 L544.77,431.65 L544.93,431.58 L545.10,431.50 L545.27,431.43 L545.43,431.35 L545.60,431.28 L545.77,431.20 L545.93,431.13 L546.10,431.05 L546.27,430.98 L546.43,430.90 L546.60,430.82 L546.77,430.75 L546.93,430.67 L547.10,430.60 L547.27,430.52 L547.43,430.45 L547.60,430.37 L547.77,430.29 L547.93,430.22 L548.10,430.14 L548.27,430.07 L548.43,429.99 L548.60,429.91 L548.77,429.84 L548.93,429.76 L549.10,429.69 L549.27,429.61 L549.43,429.53 L549.60,429.46 L549.77,429.38 L549.93,429.30 L550.10,429.23 L550.27,429.15 L550.43,429.08 L550.60,429.00 L550.77,428.92 L550.93,428.85 L551.10,428.77 L551.27,428.69 L551.43,428.62 L551.60,428.54 L551.77,428.46 L551.93,428.39 L552.10,428.31 L552.27,428.23 L552.43,428.16 L552.60,428.08 L552.77,428.00 L552.93,427.93 L553.10,427.85 L553.27,427.77 L553.43,427.69 L553.60,427.62 L553.77,427.54 L553.93,427.46 L554.10,427.39 L554.27,427.31 L554.43,427.23 L554.60,427.15 L554.77,427.08 L554.93,427.00 L555.10,426.92 L555.27,426.84 L555.43,426.77 L555.60,426.69 L555.77,426.61 L555.93,426.53 L556.10,426.46 L556.27,426.38 L556.43,426.30 L556.60,426.22 L556.77,426.15 L556.93,426.07 L557.10,425.99 L557.27,425.91 L557.43,425.84 L557.60,425.76 L557.77,425.68 L557.93,425.60 L558.10,425.52 L558.27,425.45 L558.43,425.37 L558.60,425.29 L558.77,425.21 L558.93,425.13 L559.10,425.06 L559.27,424.98 L559.43,424.90 L559.60,424.82 L559.77,424.74 L559.93,424.67 L560.10,424.59 L560.27,424.51 L560.43,424.43 L560.60,424.35 L560.77,424.27 L560.93,424.20 L561.10,424.12 L561.27,424.04 L561.43,423.96 L561.60,423.88 L561.77,423.80 L561.93,423.72 L562.10,423.65 L562.27,423.57 L562.43,423.49 L562.60,423.41 L562.77,423.33 L562.93,423.25 L563.10,423.17 L563.27,423.10 L563.43,423.02 L563.60,422.94 L563.77,422.86 L563.93,422.78 L564.10,422.70 L564.27,422.62 L564.43,422.54 L564.60,422.46 L564.77,422.39 L564.93,422.31 L565.10,422.23 L565.27,422.15 L565.43,422.07 L565.60,421.99 L565.77,421.91 L565.93,421.83 L566.10,421.75 L566.27,421.67 L566.43,421.59 L566.60,421.51 L566.77,421.43 L566.93,421.36 L567.10,421.28 L567.27,421.20 L567.43,421.12 L567.60,421.04 L567.77,420.96 L567.93,420.88 L568.10,420.80 L568.27,420.72 L568.43,420.64 L568.60,420.56 L568.77,420.48 L568.93,420.40 L569.10,420.32 L569.27,420.24 L569.43,420.16 L569.60,420.08 L569.77,420.00 L569.93,419.92 L570.10,419.84 L570.27,419.76 L570.43,419.68 L570.60,419.60 L570.77,419.52 L570.93,419.44 L571.10,419.36 L571.27,419.28 L571.43,419.20 L571.60,419.12 L571.77,419.04 L571.93,418.96 L572.10,418.88 L572.27,418.80 L572.43,418.72 L572.60,418.64 L572.77,418.56 L572.93,418.48 L573.10,418.40 L573.27,418.32 L573.43,418.24 L573.60,418.16 L573.77,418.08 L573.93,418.00 L574.10,417.92 L574.27,417.84 L574.43,417.76 L574.60,417.68 L574.77,417.60 L574.93,417.52 L575.10,417.44 L575.27,417.36 L575.43,417.28 L575.60,417.20 L575.77,417.12 L575.93,417.04 L576.10,416.96 L576.27,416.88 L576.43,416.79 L576.60,416.71 L576.77,416.63 L576.93,416.55 L577.10,416.47 L577.27,416.39 L577.43,416.31 L577.60,416.23 L577.77,416.15 L577.93,416.07 L578.10,415.99 L578.27,415.91 L578.43,415.83 L578.60,415.74 L578.77,415.66 L578.93,415.58 L579.10,415.50 L579.27,415.42 L579.43,415.34 L579.60,415.26 L579.77,415.18 L579.93,415.10 L580.10,415.02 L580.27,414.94 L580.43,414.85 L580.60,414.77 L580.77,414.69 L580.93,414.61 L581.10,414.53 L581.27,414.45 L581.43,414.37 L581.60,414.29 L581.77,414.21 L581.93,414.12 L582.10,414.04 L582.27,413.96 L582.43,413.88 L582.60,413.80 L582.77,413.72 L582.93,413.64 L583.10,413.56 L583.27,413.47 L583.43,413.39 L583.60,413.31 L583.77,413.23 L583.93,413.15 L584.10,413.07 L584.27,412.99 L584.43,412.90 L584.60,412.82 L584.77,412.74 L584.93,412.66 L585.10,412.58 L585.27,412.50 L585.43,412.42 L585.60,412.33 L585.77,412.25 L585.93,412.17 L586.10,412.09 L586.27,412.01 L586.43,411.93 L586.60,411.84 L586.77,411.76 L586.93,411.68 L587.10,411.60 L587.27,411.52 L587.43,411.44 L587.60,411.35 L587.77,411.27 L587.93,411.19 L588.10,411.11 L588.27,411.03 L588.43,410.95 L588.60,410.86 L588.77,410.78 L588.93,410.70 L589.10,410.62 L589.27,410.54 L589.43,410.45 L589.60,410.37 L589.77,410.29 L589.93,410.21 L590.10,410.13 L590.27,410.05 L590.43,409.96 L590.60,409.88 L590.77,409.80 L590.93,409.72 L591.10,409.64 L591.27,409.55 L591.43,409.47 L591.60,409.39 L591.77,409.31 L591.93,409.23 L592.10,409.14 L592.27,409.06 L592.43,408.98 L592.60,408.90 L592.77,408.82 L592.93,408.73 L593.10,408.65 L593.27,408.57 L593.43,408.49 L593.60,408.41 L593.77,408.32 L593.93,408.24 L594.10,408.16 L594.27,408.08 L594.43,407.99 L594.60,407.91 L594.77,407.83 L594.93,407.75 L595.10,407.67 L595.27,407.58 L595.43,407.50 L595.60,407.42 L595.77,407.34 L595.93,407.26 L596.10,407.17 L596.27,407.09 L596.43,407.01 L596.60,406.93 L596.77,406.84 L596.93,406.76 L597.10,406.68 L597.27,406.60 L597.43,406.51 L597.60,406.43 L597.77,406.35 L597.93,406.27 L598.10,406.19 L598.27,406.10 L598.43,406.02 L598.60,405.94 L598.77,405.86 L598.93,405.77 L599.10,405.69 L599.27,405.61 L599.43,405.53 L599.60,405.44 L599.77,405.36 L599.93,405.28 L600.10,405.20 L600.27,405.11 L600.43,405.03 L600.60,404.95 L600.77,404.87 L600.93,404.79 L601.10,404.70 L601.27,404.62 L601.43,404.54 L601.60,404.46 L601.77,404.37 L601.93,404.29 L602.10,404.21 L602.27,404.13 L602.43,404.04 L602.60,403.96 L602.77,403.88 L602.93,403.80 L603.10,403.71 L603.27,403.63 L603.43,403.55 L603.60,403.47 L603.77,403.38 L603.93,403.30 L604.10,403.22 L604.27,403.14 L604.43,403.05 L604.60,402.97 L604.77,402.89 L604.93,402.81 L605.10,402.72 L605.27,402.64 L605.43,402.56 L605.60,402.48 L605.77,402.39 L605.93,402.31 L606.10,402.23 L606.27,402.15 L606.43,402.06 L606.60,401.98 L606.77,401.90 L606.93,401.82 L607.10,401.73 L607.27,401.65 L607.43,401.57 L607.60,401.49 L607.77,401.40 L607.93,401.32 L608.10,401.24 L608.27,401.15 L608.43,401.07 L608.60,400.99 L608.77,400.91 L608.93,400.82 L609.10,400.74 L609.27,400.66 L609.43,400.58 L609.60,400.49 L609.77,400.41 L609.93,400.33 L610.10,400.25 L610.27,400.16 L610.43,400.08 L610.60,400.00 L610.77,399.92 L610.93,399.83 L611.10,399.75 L611.27,399.67 L611.43,399.59 L611.60,399.50 L611.77,399.42 L611.93,399.34 L612.10,399.26 L612.27,399.17 L612.43,399.09 L612.60,399.01 L612.77,398.93 L612.93,398.84 L613.10,398.76 L613.27,398.68 L613.43,398.60 L613.60,398.51 L613.77,398.43 L613.93,398.35 L614.10,398.27 L614.27,398.18 L614.43,398.10 L614.60,398.02 L614.77,397.94 L614.93,397.85 L615.10,397.77 L615.27,397.69 L615.43,397.61 L615.60,397.52 L615.77,397.44 L615.93,397.36 L616.10,397.27 L616.27,397.19 L616.43,397.11 L616.60,397.03 L616.77,396.94 L616.93,396.86 L617.10,396.78 L617.27,396.70 L617.43,396.62 L617.60,396.53 L617.77,396.45 L617.93,396.37 L618.10,396.29 L618.27,396.20 L618.43,396.12 L618.60,396.04 L618.77,395.96 L618.93,395.87 L619.10,395.79 L619.27,395.71 L619.43,395.63 L619.60,395.54 L619.77,395.46 L619.93,395.38 L620.10,395.30 L620.27,395.21 L620.43,395.13 L620.60,395.05 L620.77,394.97 L620.93,394.88 L621.10,394.80 L621.27,394.72 L621.43,394.64 L621.60,394.55 L621.77,394.47 L621.93,394.39 L622.10,394.31 L622.27,394.23 L622.43,394.14 L622.60,394.06 L622.77,393.98 L622.93,393.90 L623.10,393.81 L623.27,393.73 L623.43,393.65 L623.60,393.57 L623.77,393.49 L623.93,393.40 L624.10,393.32 L624.27,393.24 L624.43,393.16 L624.60,393.07 L624.77,392.99 L624.93,392.91 L625.10,392.83 L625.27,392.75 L625.43,392.66 L625.60,392.58 L625.77,392.50 L625.93,392.42 L626.10,392.33 L626.27,392.25 L626.43,392.17 L626.60,392.09 L626.77,392.01 L626.93,391.92 L627.10,391.84 L627.27,391.76 L627.43,391.68 L627.60,391.60 L627.77,391.51 L627.93,391.43 L628.10,391.35 L628.27,391.27 L628.43,391.19 L628.60,391.10 L628.77,391.02 L628.93,390.94 L629.10,390.86 L629.27,390.78 L629.43,390.69 L629.60,390.61 L629.77,390.53 L629.93,390.45 L630.10,390.37 L630.27,390.28 L630.43,390.20 L630.60,390.12 L630.77,390.04 L630.93,389.96 L631.10,389.88 L631.27,389.79 L631.43,389.71 L631.60,389.63 L631.77,389.55 L631.93,389.47 L632.10,389.38 L632.27,389.30 L632.43,389.22 L632.60,389.14 L632.77,389.06 L632.93,388.98 L633.10,388.89 L633.27,388.81 L633.43,388.73 L633.60,388.65 L633.77,388.57 L633.93,388.49 L634.10,388.41 L634.27,388.32 L634.43,388.24 L634.60,388.16 L634.77,388.08 L634.93,388.00 L635.10,387.92 L635.27,387.83 L635.43,387.75 L635.60,387.67 L635.77,387.59 L635.93,387.51 L636.10,387.43 L636.27,387.35 L636.43,387.26 L636.60,387.18 L636.77,387.10 L636.93,387.02 L637.10,386.94 L637.27,386.86 L637.43,386.78 L637.60,386.70 L637.77,386.61 L637.93,386.53 L638.10,386.45 L638.27,386.37 L638.43,386.29 L638.60,386.21 L638.77,386.13 L638.93,386.05 L639.10,385.96 L639.27,385.88 L639.43,385.80 L639.60,385.72 L639.77,385.64 L639.93,385.56 L640.10,385.48 L640.27,385.40 L640.43,385.32 L640.60,385.24 L640.77,385.15 L640.93,385.07 L641.10,384.99 L641.27,384.91 L641.43,384.83 L641.60,384.75 L641.77,384.67 L641.93,384.59 L642.10,384.51 L642.27,384.43 L642.43,384.35 L642.60,384.27 L642.77,384.18 L642.93,384.10 L643.10,384.02 L643.27,383.94 L643.43,383.86 L643.60,383.78 L643.77,383.70 L643.93,383.62 L644.10,383.54 L644.27,383.46 L644.43,383.38 L644.60,383.30 L644.77,383.22 L644.93,383.14 L645.10,383.06 L645.27,382.98 L645.43,382.90 L645.60,382.82 L645.77,382.74 L645.93,382.65 L646.10,382.57 L646.27,382.49 L646.43,382.41 L646.60,382.33 L646.77,382.25 L646.93,382.17 L647.10,382.09 L647.27,382.01 L647.43,381.93 L647.60,381.85 L647.77,381.77 L647.93,381.69 L648.10,381.61 L648.27,381.53 L648.43,381.45 L648.60,381.37 L648.77,381.29 L648.93,381.21 L649.10,381.13 L649.27,381.05 L649.43,380.97 L649.60,380.89 L649.77,380.81 L649.93,380.73 L650.10,380.65 L650.27,380.57 L650.43,380.49 L650.60,380.41 L650.77,380.33 L650.93,380.25 L651.10,380.17 L651.27,380.10 L651.43,380.02 L651.60,379.94 L651.77,379.86 L651.93,379.78 L652.10,379.70 L652.27,379.62 L652.43,379.54 L652.60,379.46 L652.77,379.38 L652.93,379.30 L653.10,379.22 L653.27,379.14 L653.43,379.06 L653.60,378.98 L653.77,378.90 L653.93,378.82 L654.10,378.74 L654.27,378.67 L654.43,378.59 L654.60,378.51 L654.77,378.43 L654.93,378.35 L655.10,378.27 L655.27,378.19 L655.43,378.11 L655.60,378.03 L655.77,377.95 L655.93,377.88 L656.10,377.80 L656.27,377.72 L656.43,377.64 L656.60,377.56 L656.77,377.48 L656.93,377.40 L657.10,377.32 L657.27,377.24 L657.43,377.17 L657.60,377.09 L657.77,377.01 L657.93,376.93 L658.10,376.85 L658.27,376.77 L658.43,376.69 L658.60,376.62 L658.77,376.54 L658.93,376.46 L659.10,376.38 L659.27,376.30 L659.43,376.22 L659.60,376.15 L659.77,376.07 L659.93,375.99 L660.10,375.91 L660.27,375.83 L660.43,375.75 L660.60,375.68 L660.77,375.60 L660.93,375.52 L661.10,375.44 L661.27,375.36 L661.43,375.29 L661.60,375.21 L661.77,375.13 L661.93,375.05 L662.10,374.97 L662.27,374.90 L662.44,374.82 L662.61,374.73 L662.79,374.65 L662.96,374.57 L663.13,374.49 L663.30,374.41 L663.47,374.33 L663.64,374.26 L663.80,374.18 L663.95,374.11 L664.10,374.04 L664.21,373.99 L664.32,373.94 L664.42,373.89 L664.52,373.84 L664.62,373.80 L664.72,373.75 L664.82,373.71 L664.91,373.66 L665.01,373.62 L665.10,373.58 L665.20,373.53 L665.30,373.48" fill="none" stroke="#000" stroke-width="2.4"/>
<path d="M390.60,482.80 L390.68,482.73 L390.76,482.66 L390.83,482.59 L390.90,482.53 L390.98,482.47 L391.05,482.40 L391.13,482.34 L391.21,482.26 L391.29,482.18 L391.39,482.10 L391.49,482.00 L391.60,481.90 L391.93,481.59 L392.31,481.22 L392.76,480.80 L393.24,480.33 L393.76,479.82 L394.31,479.29 L394.87,478.73 L395.44,478.16 L396.00,477.58 L396.56,477.01 L397.09,476.45 L397.60,475.90 L398.11,475.33 L398.63,474.75 L399.14,474.16 L399.66,473.56 L400.17,472.96 L400.68,472.35 L401.19,471.74 L401.68,471.13 L402.18,470.51 L402.66,469.90 L403.14,469.30 L403.60,468.70 L404.02,468.14 L404.42,467.56 L404.81,466.98 L405.19,466.39 L405.57,465.81 L405.94,465.23 L406.32,464.65 L406.69,464.10 L407.08,463.56 L407.47,463.04 L407.88,462.55 L408.30,462.10 L408.67,461.73 L409.05,461.38 L409.44,461.03 L409.83,460.70 L410.22,460.39 L410.63,460.08 L411.03,459.80 L411.44,459.52 L411.85,459.27 L412.26,459.03 L412.68,458.81 L413.10,458.60 L413.48,458.43 L413.87,458.27 L414.25,458.12 L414.63,457.99 L415.02,457.88 L415.41,457.77 L415.81,457.68 L416.21,457.60 L416.62,457.53 L417.04,457.48 L417.46,457.43 L417.90,457.40 L418.44,457.38 L419.01,457.39 L419.60,457.42 L420.20,457.47 L420.81,457.54 L421.43,457.62 L422.05,457.72 L422.67,457.82 L423.27,457.94 L423.87,458.06 L424.44,458.18 L425.00,458.30 L425.47,458.41 L425.93,458.54 L426.38,458.68 L426.82,458.83 L427.25,458.98 L427.68,459.14 L428.10,459.29 L428.53,459.45 L428.96,459.60 L429.40,459.74 L429.84,459.88 L430.30,460.00 L430.79,460.12 L431.29,460.25 L431.80,460.37 L432.31,460.50 L432.82,460.62 L433.34,460.73 L433.86,460.83 L434.37,460.92 L434.89,460.99 L435.40,461.05 L435.90,461.08 L436.40,461.10 L436.86,461.09 L437.32,461.07 L437.77,461.03 L438.22,460.98 L438.67,460.92 L439.11,460.84 L439.56,460.75 L440.01,460.66 L440.45,460.55 L440.90,460.44 L441.35,460.32 L441.80,460.20 L442.29,460.06 L442.80,459.90 L443.31,459.73 L443.82,459.54 L444.34,459.35 L444.85,459.15 L445.36,458.94 L445.85,458.73 L446.34,458.52 L446.81,458.31 L447.27,458.10 L447.70,457.90 L448.03,457.74 L448.34,457.59 L448.64,457.43 L448.93,457.28 L449.21,457.13 L449.49,456.97 L449.76,456.82 L450.04,456.65 L450.32,456.48 L450.60,456.30 L450.89,456.10 L451.20,455.90 L451.60,455.62 L452.02,455.32 L452.43,455.00 L452.86,454.66 L453.29,454.32 L453.73,453.96 L454.17,453.60 L454.61,453.24 L455.05,452.87 L455.50,452.51 L455.95,452.15 L456.40,451.80 L456.88,451.44 L457.36,451.07 L457.85,450.71 L458.34,450.35 L458.83,449.98 L459.33,449.62 L459.83,449.25 L460.33,448.88 L460.82,448.51 L461.32,448.14 L461.81,447.77 L462.30,447.40 L462.80,447.02 L463.31,446.62 L463.83,446.21 L464.35,445.80 L464.88,445.39 L465.40,444.98 L465.91,444.57 L466.40,444.18 L466.87,443.81 L467.31,443.45 L467.72,443.12 L468.10,442.81 L468.30,442.64 L468.50,442.49 L468.68,442.34 L468.85,442.20 L469.01,442.06 L469.17,441.93 L469.32,441.80 L469.47,441.67 L469.63,441.54 L469.78,441.41 L469.94,441.28 L470.10,441.14 L470.27,441.00 L470.43,440.86 L470.60,440.71 L470.77,440.57 L470.93,440.43 L471.10,440.29 L471.27,440.15 L471.43,440.00 L471.60,439.86 L471.77,439.72 L471.93,439.57 L472.10,439.43 L472.27,439.29 L472.43,439.14 L472.60,439.00 L472.77,438.85 L472.93,438.70 L473.10,438.56 L473.27,438.41 L473.43,438.27 L473.60,438.12 L473.77,437.98 L473.93,437.83 L474.10,437.68 L474.27,437.53 L474.43,437.39 L474.60,437.24 L474.77,437.09 L474.93,436.94 L475.10,436.79 L475.27,436.64 L475.43,436.49 L475.60,436.35 L475.77,436.20 L475.93,436.05 L476.10,435.90 L476.27,435.75 L476.43,435.59 L476.60,435.44 L476.77,435.29 L476.93,435.14 L477.10,434.99 L477.27,434.84 L477.43,434.68 L477.60,434.53 L477.77,434.38 L477.93,434.23 L478.10,434.07 L478.27,433.92 L478.43,433.77 L478.60,433.61 L478.77,433.46 L478.93,433.30 L479.10,433.15 L479.27,432.99 L479.43,432.84 L479.60,432.68 L479.77,432.53 L479.93,432.37 L480.10,432.21 L480.27,432.06 L480.43,431.90 L480.60,431.74 L480.77,431.59 L480.93,431.43 L481.10,431.27 L481.27,431.11 L481.43,430.95 L481.60,430.80 L481.77,430.64 L481.93,430.48 L482.10,430.32 L482.27,430.16 L482.43,430.00 L482.60,429.84 L482.77,429.68 L482.93,429.52 L483.10,429.36 L483.27,429.20 L483.43,429.03 L483.60,428.87 L483.77,428.71 L483.93,428.55 L484.10,428.39 L484.27,428.22 L484.43,428.06 L484.60,427.90 L484.77,427.74 L484.93,427.57 L485.10,427.41 L485.27,427.24 L485.43,427.08 L485.60,426.92 L485.77,426.75 L485.93,426.59 L486.10,426.42 L486.27,426.26 L486.43,426.09 L486.60,425.92 L486.77,425.76 L486.93,425.59 L487.10,425.42 L487.27,425.26 L487.43,425.09 L487.60,424.92 L487.77,424.75 L487.93,424.59 L488.10,424.42 L488.27,424.25 L488.43,424.08 L488.60,423.91 L488.77,423.74 L488.93,423.57 L489.10,423.40 L489.27,423.23 L489.43,423.06 L489.60,422.89 L489.77,422.72 L489.93,422.55 L490.10,422.38 L490.27,422.21 L490.43,422.04 L490.60,421.87 L490.77,421.70 L490.93,421.52 L491.10,421.35 L491.27,421.18 L491.43,421.01 L491.60,420.83 L491.77,420.66 L491.93,420.49 L492.10,420.31 L492.27,420.14 L492.43,419.96 L492.60,419.79 L492.77,419.61 L492.93,419.44 L493.10,419.26 L493.27,419.09 L493.43,418.91 L493.60,418.74 L493.77,418.56 L493.93,418.39 L494.10,418.21 L494.27,418.03 L494.43,417.85 L494.60,417.68 L494.77,417.50 L494.93,417.32 L495.10,417.14 L495.27,416.97 L495.43,416.79 L495.60,416.61 L495.77,416.43 L495.93,416.25 L496.10,416.07 L496.27,415.89 L496.43,415.71 L496.60,415.53 L496.77,415.35 L496.93,415.17 L497.10,414.99 L497.27,414.81 L497.43,414.63 L497.60,414.45 L497.77,414.27 L497.93,414.08 L498.10,413.90 L498.27,413.72 L498.43,413.54 L498.60,413.35 L498.77,413.17 L498.93,412.99 L499.10,412.81 L499.27,412.62 L499.43,412.44 L499.60,412.25 L499.77,412.07 L499.93,411.89 L500.10,411.70 L500.27,411.52 L500.43,411.33 L500.60,411.15 L500.77,410.96 L500.93,410.77 L501.10,410.59 L501.27,410.40 L501.43,410.22 L501.60,410.03 L501.77,409.84 L501.93,409.66 L502.10,409.47 L502.27,409.28 L502.43,409.09 L502.60,408.90 L502.77,408.72 L502.93,408.53 L503.10,408.34 L503.27,408.15 L503.43,407.96 L503.60,407.77 L503.77,407.58 L503.93,407.39 L504.10,407.20 L504.27,407.01 L504.43,406.82 L504.60,406.63 L504.77,406.44 L504.93,406.25 L505.10,406.06 L505.27,405.87 L505.43,405.68 L505.60,405.48 L505.77,405.29 L505.93,405.10 L506.10,404.91 L506.27,404.72 L506.43,404.52 L506.60,404.33 L506.77,404.14 L506.93,403.94 L507.10,403.75 L507.27,403.55 L507.43,403.36 L507.60,403.17 L507.77,402.97 L507.93,402.78 L508.10,402.58 L508.27,402.39 L508.43,402.19 L508.60,402.00 L508.77,401.80 L508.93,401.60 L509.10,401.41 L509.27,401.21 L509.43,401.01 L509.60,400.82 L509.77,400.62 L509.93,400.42 L510.10,400.23 L510.27,400.03 L510.43,399.83 L510.60,399.63 L510.77,399.43 L510.93,399.24 L511.10,399.04 L511.27,398.84 L511.43,398.64 L511.60,398.44 L511.77,398.24 L511.93,398.04 L512.10,397.84 L512.27,397.64 L512.43,397.44 L512.60,397.24 L512.77,397.04 L512.93,396.84 L513.10,396.64 L513.27,396.44 L513.43,396.23 L513.60,396.03 L513.77,395.83 L513.93,395.63 L514.10,395.43 L514.27,395.22 L514.43,395.02 L514.60,394.82 L514.77,394.62 L514.93,394.41 L515.10,394.21 L515.27,394.00 L515.43,393.80 L515.60,393.60 L515.77,393.39 L515.93,393.19 L516.10,392.98 L516.27,392.78 L516.43,392.57 L516.60,392.37 L516.77,392.16 L516.93,391.96 L517.10,391.75 L517.27,391.55 L517.43,391.34 L517.60,391.13 L517.77,390.93 L517.93,390.72 L518.10,390.51 L518.27,390.31 L518.43,390.10 L518.60,389.89 L518.77,389.68 L518.93,389.48 L519.10,389.27 L519.27,389.06 L519.43,388.85 L519.60,388.64 L519.77,388.43 L519.93,388.22 L520.10,388.02 L520.27,387.81 L520.43,387.60 L520.60,387.39 L520.77,387.18 L520.93,386.97 L521.10,386.76 L521.27,386.54 L521.43,386.33 L521.60,386.12 L521.77,385.91 L521.93,385.70 L522.10,385.49 L522.27,385.28 L522.43,385.07 L522.60,384.85 L522.77,384.64 L522.93,384.43 L523.10,384.22 L523.27,384.00 L523.43,383.79 L523.60,383.58 L523.77,383.36 L523.93,383.15 L524.10,382.94 L524.27,382.72 L524.43,382.51 L524.60,382.30 L524.77,382.08 L524.93,381.87 L525.10,381.65 L525.27,381.44 L525.43,381.22 L525.60,381.01 L525.77,380.79 L525.93,380.58 L526.10,380.36 L526.27,380.14 L526.43,379.93 L526.60,379.71 L526.77,379.49 L526.93,379.28 L527.10,379.06 L527.27,378.84 L527.43,378.63 L527.60,378.41 L527.77,378.19 L527.93,377.97 L528.10,377.76 L528.27,377.54 L528.43,377.32 L528.60,377.10 L528.77,376.88 L528.93,376.66 L529.10,376.44 L529.27,376.22 L529.43,376.00 L529.60,375.79 L529.77,375.57 L529.93,375.35 L530.10,375.13 L530.27,374.91 L530.43,374.68 L530.60,374.46 L530.77,374.24 L530.93,374.02 L531.10,373.80 L531.27,373.58 L531.43,373.36 L531.60,373.14 L531.77,372.92 L531.93,372.69 L532.10,372.47 L532.27,372.25 L532.43,372.03 L532.60,371.80 L532.77,371.58 L532.93,371.36 L533.10,371.13 L533.27,370.91 L533.43,370.69 L533.60,370.46 L533.77,370.24 L533.93,370.02 L534.10,369.79 L534.27,369.57 L534.43,369.34 L534.60,369.12 L534.77,368.89 L534.93,368.67 L535.10,368.44 L535.27,368.22 L535.43,367.99 L535.60,367.77 L535.77,367.54 L535.93,367.32 L536.10,367.09 L536.27,366.86 L536.43,366.64 L536.60,366.41 L536.77,366.18 L536.93,365.96 L537.10,365.73 L537.27,365.50 L537.43,365.27 L537.60,365.05 L537.77,364.82 L537.93,364.59 L538.10,364.36 L538.27,364.14 L538.43,363.91 L538.60,363.68 L538.77,363.45 L538.93,363.22 L539.10,362.99 L539.27,362.76 L539.43,362.53 L539.60,362.30 L539.77,362.07 L539.93,361.84 L540.10,361.61 L540.27,361.38 L540.43,361.15 L540.60,360.92 L540.77,360.69 L540.93,360.46 L541.10,360.23 L541.27,360.00 L541.43,359.77 L541.60,359.54 L541.77,359.31 L541.93,359.07 L542.10,358.84 L542.27,358.61 L542.43,358.38 L542.60,358.15 L542.77,357.91 L542.93,357.68 L543.10,357.45 L543.27,357.21 L543.43,356.98 L543.60,356.75 L543.77,356.52 L543.93,356.28 L544.10,356.05 L544.27,355.81 L544.43,355.58 L544.60,355.35 L544.77,355.11 L544.93,354.88 L545.10,354.64 L545.27,354.41 L545.43,354.17 L545.60,353.94 L545.77,353.70 L545.93,353.47 L546.10,353.23 L546.27,353.00 L546.43,352.76 L546.60,352.52 L546.77,352.29 L546.93,352.05 L547.10,351.82 L547.27,351.58 L547.43,351.34 L547.60,351.11 L547.77,350.87 L547.93,350.63 L548.10,350.40 L548.27,350.16 L548.43,349.92 L548.60,349.68 L548.77,349.44 L548.93,349.21 L549.10,348.97 L549.27,348.73 L549.43,348.49 L549.60,348.25 L549.77,348.02 L549.93,347.78 L550.10,347.54 L550.27,347.30 L550.43,347.06 L550.60,346.82 L550.77,346.58 L550.93,346.34 L551.10,346.10 L551.27,345.86 L551.43,345.62 L551.60,345.38 L551.77,345.14 L551.93,344.90 L552.10,344.66 L552.27,344.42 L552.43,344.18 L552.60,343.94 L552.77,343.70 L552.93,343.45 L553.10,343.21 L553.27,342.97 L553.43,342.73 L553.60,342.49 L553.77,342.25 L553.93,342.00 L554.10,341.76 L554.27,341.52 L554.43,341.28 L554.60,341.03 L554.77,340.79 L554.93,340.55 L555.10,340.31 L555.27,340.06 L555.43,339.82 L555.60,339.58 L555.77,339.33 L555.93,339.09 L556.10,338.84 L556.27,338.60 L556.43,338.36 L556.60,338.11 L556.77,337.87 L556.93,337.62 L557.10,337.38 L557.27,337.13 L557.43,336.89 L557.60,336.64 L557.77,336.40 L557.93,336.15 L558.10,335.91 L558.27,335.66 L558.43,335.42 L558.60,335.17 L558.77,334.93 L558.93,334.68 L559.10,334.43 L559.27,334.19 L559.43,333.94 L559.60,333.69 L559.77,333.45 L559.93,333.20 L560.10,332.95 L560.27,332.71 L560.43,332.46 L560.60,332.21 L560.77,331.96 L560.93,331.72 L561.10,331.47 L561.27,331.22 L561.43,330.97 L561.60,330.73 L561.77,330.48 L561.93,330.23 L562.10,329.98 L562.27,329.73 L562.43,329.48 L562.60,329.23 L562.77,328.99 L562.93,328.74 L563.10,328.49 L563.27,328.24 L563.43,327.99 L563.60,327.74 L563.77,327.49 L563.93,327.24 L564.10,326.99 L564.27,326.74 L564.43,326.49 L564.60,326.24 L564.77,325.99 L564.93,325.74 L565.10,325.49 L565.27,325.24 L565.43,324.99 L565.60,324.74 L565.77,324.49 L565.93,324.23 L566.10,323.98 L566.27,323.73 L566.43,323.48 L566.60,323.23 L566.77,322.98 L566.93,322.72 L567.10,322.47 L567.27,322.22 L567.43,321.97 L567.60,321.72 L567.77,321.46 L567.93,321.21 L568.10,320.96 L568.27,320.71 L568.43,320.45 L568.60,320.20 L568.77,319.95 L568.93,319.69 L569.10,319.44 L569.27,319.19 L569.43,318.93 L569.60,318.68 L569.77,318.43 L569.93,318.17 L570.10,317.92 L570.27,317.66 L570.43,317.41 L570.60,317.16 L570.77,316.90 L570.93,316.65 L571.10,316.39 L571.27,316.14 L571.43,315.88 L571.60,315.63 L571.77,315.37 L571.93,315.12 L572.10,314.86 L572.27,314.61 L572.43,314.35 L572.60,314.10 L572.77,313.84 L572.93,313.58 L573.10,313.33 L573.27,313.07 L573.43,312.82 L573.60,312.56 L573.77,312.30 L573.93,312.05 L574.10,311.79 L574.27,311.53 L574.43,311.28 L574.60,311.02 L574.77,310.76 L574.93,310.51 L575.10,310.25 L575.27,309.99 L575.43,309.74 L575.60,309.48 L575.77,309.22 L575.93,308.96 L576.10,308.71 L576.27,308.45 L576.43,308.19 L576.60,307.93 L576.77,307.67 L576.93,307.41 L577.10,307.16 L577.27,306.90 L577.43,306.64 L577.60,306.38 L577.77,306.12 L577.93,305.86 L578.10,305.61 L578.27,305.35 L578.43,305.09 L578.60,304.83 L578.77,304.57 L578.93,304.31 L579.10,304.05 L579.27,303.79 L579.43,303.53 L579.60,303.27 L579.77,303.01 L579.93,302.75 L580.10,302.49 L580.27,302.23 L580.43,301.97 L580.60,301.71 L580.77,301.45 L580.93,301.19 L581.10,300.93 L581.27,300.67 L581.43,300.41 L581.60,300.15 L581.77,299.88 L581.93,299.62 L582.10,299.36 L582.27,299.10 L582.43,298.84 L582.60,298.58 L582.77,298.32 L582.93,298.06 L583.10,297.79 L583.27,297.53 L583.43,297.27 L583.60,297.01 L583.77,296.75 L583.93,296.48 L584.10,296.22 L584.27,295.96 L584.43,295.70 L584.60,295.43 L584.77,295.17 L584.93,294.91 L585.10,294.65 L585.27,294.38 L585.43,294.12 L585.60,293.86 L585.77,293.59 L585.93,293.33 L586.10,293.07 L586.27,292.80 L586.44,292.53 L586.62,292.25 L586.80,291.97 L586.97,291.69 L587.15,291.41 L587.32,291.13 L587.49,290.87 L587.66,290.61 L587.81,290.36 L587.96,290.12 L588.10,289.90 L588.19,289.76 L588.27,289.63 L588.35,289.51 L588.43,289.39 L588.50,289.27 L588.57,289.15 L588.64,289.04 L588.71,288.93 L588.78,288.82 L588.85,288.71 L588.93,288.59 L589.00,288.47" fill="none" stroke="#777" stroke-width="2.1"/>
</svg>
</body></html>
